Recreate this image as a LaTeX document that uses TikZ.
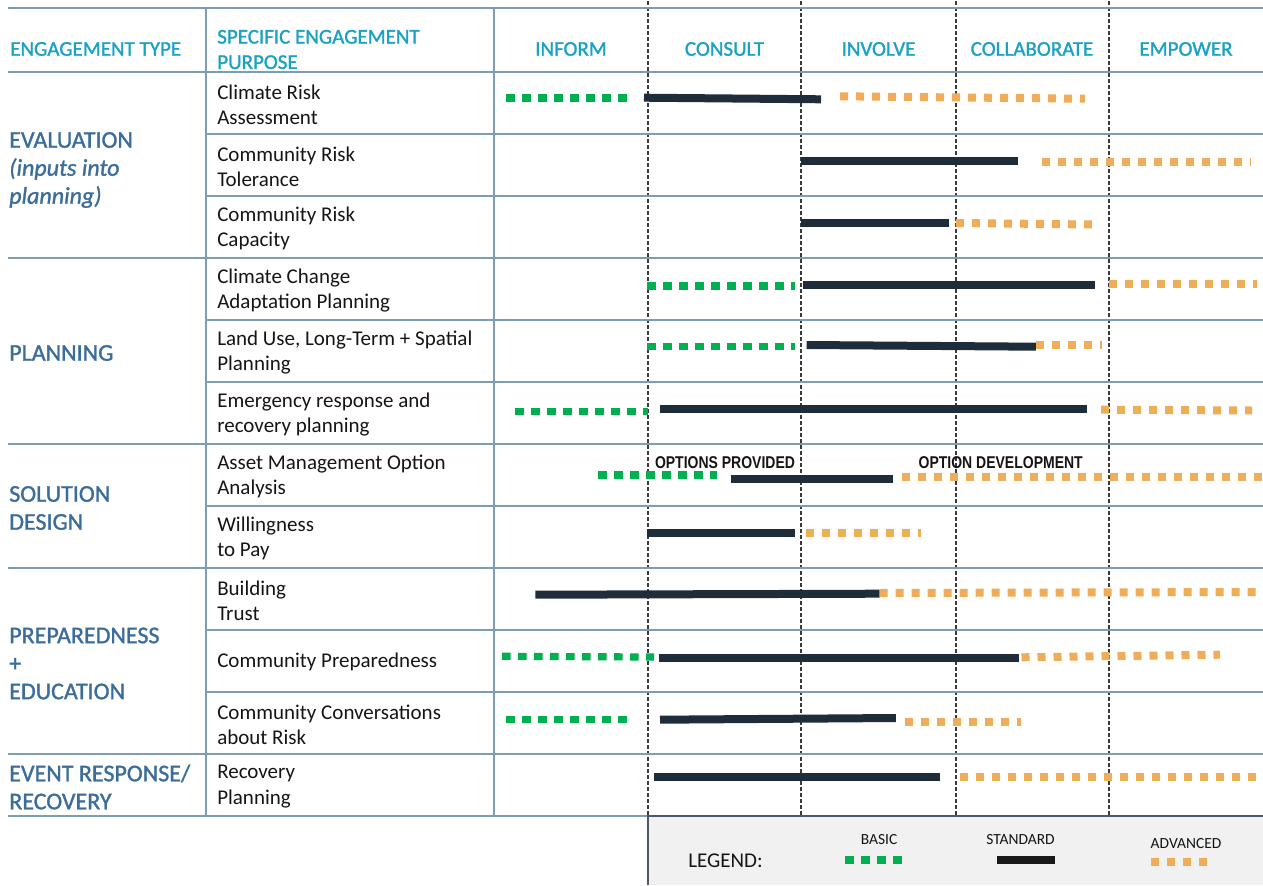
\documentclass[tikz,border=0pt]{standalone}
\usepackage{fontspec}
\setmainfont{Carlito}
\newfontfamily\semifont{Carlito}[FakeBold=1.3]
\newfontfamily\narrowfont{Liberation Sans}[FakeStretch=0.82]
\definecolor{gridcol}{HTML}{7E9CB4}
\definecolor{headcol}{HTML}{1AA1C3}
\definecolor{groupcol}{HTML}{3C6D9A}
\definecolor{basiccol}{HTML}{00B050}
\definecolor{advcol}{HTML}{EFAC59}
\definecolor{stdcol}{HTML}{1F2D3A}
\definecolor{legfill}{HTML}{F1F1F1}
\definecolor{legborder}{HTML}{4A586A}
\definecolor{dashcol}{HTML}{3A3A3A}
\definecolor{textcol}{HTML}{151515}
\tikzset{
  grid/.style={draw=gridcol, line width=2.2pt},
  dashline/.style={draw=dashcol, line width=0.8pt, dash pattern=on 3pt off 1.5pt},
  basic/.style={draw=basiccol, line width=5.4pt, dash pattern=on 6.4pt off 5.6pt},
  adv/.style={draw=advcol, line width=6pt, dash pattern=on 6pt off 6pt},
  std/.style={draw=stdcol, line width=6pt},
  head/.style={text=headcol, font=\semifont\fontsize{15.75pt}{19pt}\selectfont, inner sep=0pt, align=left},
  purpose/.style={text=textcol, font=\fontsize{15.75pt}{19pt}\selectfont, inner sep=0pt, align=left, anchor=west},
  group/.style={text=groupcol, font=\semifont\fontsize{18pt}{21pt}\selectfont, inner sep=0pt, align=left, anchor=west},
  optlabel/.style={text=textcol, font=\narrowfont\bfseries\fontsize{12.8pt}{14pt}\selectfont, inner sep=0pt},
  legtext/.style={text=textcol, font=\fontsize{11.6pt}{13pt}\selectfont, inner sep=0pt},
}
\begin{document}
\begin{tikzpicture}[x=0.75pt,y=-0.75pt]
\useasboundingbox (0,0) rectangle (1263,885);
% legend box
\fill[legfill] (648,816) rectangle (1263,885);
% dashed column separators
\foreach \x in {648,801,956,1109} \draw[dashline] (\x,1) -- (\x,815);
% grid lines
\draw[grid] (8,8) -- (1263,8);
\foreach \y in {72,258,444,568,754} \draw[grid] (8,\y) -- (1263,\y);
\draw[grid] (8,816) -- (648,816);
\foreach \y in {134,196,320,382,506,630,692} \draw[grid] (206,\y) -- (1263,\y);
\draw[grid] (206,8) -- (206,816);
\draw[grid] (494,8) -- (494,816);
\draw[draw=legborder, line width=2.2pt] (1263,816) -- (648,816) -- (648,885);

% header
\node[head, anchor=west] (hType) at (10,49) {ENGAGEMENT TYPE};
\node[head, anchor=west] (hPurpose) at (217,49.5) {SPECIFIC ENGAGEMENT\\PURPOSE};
\node[head] (hInform) at (571,49) {INFORM};
\node[head] (hConsult) at (724.5,49) {CONSULT};
\node[head] (hInvolve) at (878.5,49) {INVOLVE};
\node[head] (hCollab) at (1032,49) {COLLABORATE};
\node[head] (hEmpower) at (1186,49) {EMPOWER};

% groups
\node[group] (gEval) at (9,170) {EVALUATION\\\textit{(inputs into}\\\textit{planning)}};
\node[group] (gPlan) at (9,353) {PLANNING};
\node[group] (gSol) at (9,508) {SOLUTION\\DESIGN};
\node[group] (gPrep) at (9,663.5) {PREPAREDNESS\\+\\EDUCATION};
\node[group] (gEvent) at (9,787) {EVENT RESPONSE/\\RECOVERY};

% purposes
\node[purpose] (p1) at (217,104.5) {Climate Risk\\Assessment};
\node[purpose] (p2) at (217,166.5) {Community Risk\\Tolerance};
\node[purpose] (p3) at (217,228.5) {Community Risk\\Capacity};
\node[purpose] (p4) at (217,290.5) {Climate Change\\Adaptation Planning};
\node[purpose] (p5) at (217,352.5) {Land Use, Long-Term + Spatial\\Planning};
\node[purpose] (p6) at (217,414.5) {Emergency response and\\recovery planning};
\node[purpose] (p7) at (217,476.5) {Asset Management Option\\Analysis};
\node[purpose] (p8) at (217,538.5) {Willingness\\to Pay};
\node[purpose] (p9) at (217,600.5) {Building\\Trust};
\node[purpose] (p10) at (217,662) {Community Preparedness};
\node[purpose] (p11) at (217,724.5) {Community Conversations\\about Risk};
\node[purpose] (p12) at (217,786.5) {Recovery\\Planning};

% bars
% row 1
\draw[basic] (506,98) -- (627,98);
\draw[std] (644,97.7) -- (821,99.3);
\draw[adv] (840,96.3) -- (1085,98.7);
% row 2
\draw[std] (801,161) -- (1018,161);
\draw[adv] (1042,162) -- (1251,162);
% row 3
\draw[std] (801,223) -- (949,223);
\draw[adv] (956,223) -- (1093,224.5);
% row 4
\draw[basic] (647,286) -- (795,286);
\draw[std] (803,285.3) -- (1094.5,285.3);
\draw[adv] (1109,284.3) -- (1257,284.3);
% row 5
\draw[basic] (647,346.3) -- (795,346.3);
\draw[std] (806.6,345) -- (1036,346.7);
\draw[adv] (1036,345.3) -- (1102,345.3);
% row 6
\draw[basic] (515,411.7) -- (648,411.7);
\draw[std] (660,409) -- (1086.6,409);
\draw[adv] (1101,409.7) -- (1252,410.5);
% row 7
\node[optlabel] (optProv) at (725,463) {OPTIONS PROVIDED};
\node[optlabel] (optDev) at (1000.7,463) {OPTION DEVELOPMENT};
\draw[basic] (598,475) -- (717,475);
\draw[std] (730.6,479) -- (892.7,479);
\draw[adv] (902,477) -- (1263,477);
% row 8
\draw[std] (647,532.7) -- (794.5,532.7);
\draw[adv] (806,532.7) -- (921,532.7);
% row 9
\draw[std] (535.4,594.7) -- (879.5,593.7);
\draw[adv] (879.5,593) -- (1256,592);
% row 10
\draw[basic] (502,656.3) -- (654,657);
\draw[std] (659,657.7) -- (1018.6,657.7);
\draw[adv] (1021.5,657.3) -- (1220,654.7);
% row 11
\draw[basic] (506,719.3) -- (626.6,719.3);
\draw[std] (660,719.7) -- (895.8,718);
\draw[adv] (905,721.7) -- (1021,721.7);
% row 12
\draw[std] (654,777.3) -- (939.7,777.3);
\draw[adv] (960,777) -- (1256.8,777);

% legend
\node[text=textcol, font=\fontsize{15.75pt}{19pt}\selectfont, inner sep=0pt, anchor=west] (legTitle) at (688,861) {LEGEND:};
\node[legtext] (legBasic) at (879,840) {BASIC};
\node[legtext] (legStd) at (1020.5,840) {STANDARD};
\node[legtext] (legAdv) at (1186,844) {ADVANCED};
\draw[basic, line width=6pt] (845,860) -- (901.5,860);
\draw[draw=black!90, line width=6pt] (997,859.7) -- (1055,859.7);
\draw[adv] (1150.5,861.7) -- (1206.5,861.7);
\end{tikzpicture}
\end{document}
